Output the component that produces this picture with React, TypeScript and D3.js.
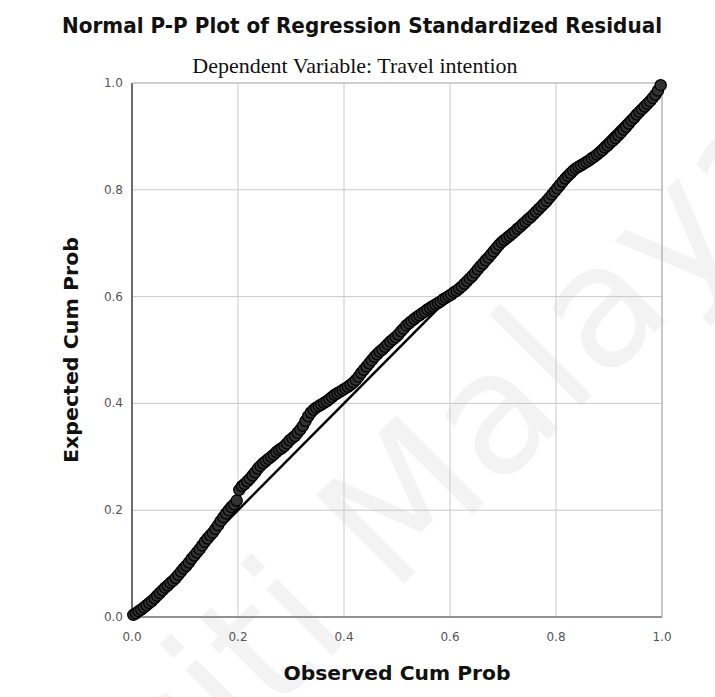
import React from "react";
import * as d3 from "d3";

const observed = [
  0.0025, 0.0075, 0.0125, 0.0175, 0.0225, 0.0275, 0.0325, 0.0375, 0.0425, 0.0475,
  0.0525, 0.0575, 0.0625, 0.0675, 0.0725, 0.0775, 0.0825, 0.0875, 0.0925, 0.0975,
  0.1025, 0.1075, 0.1125, 0.1175, 0.1225, 0.1275, 0.1325, 0.1375, 0.1425, 0.1475,
  0.1525, 0.1575, 0.1625, 0.1675, 0.1725, 0.1775, 0.1825, 0.1875, 0.1925, 0.1975,
  0.2025, 0.2075, 0.2125, 0.2175, 0.2225, 0.2275, 0.2325, 0.2375, 0.2425, 0.2475,
  0.2525, 0.2575, 0.2625, 0.2675, 0.2725, 0.2775, 0.2825, 0.2875, 0.2925, 0.2975,
  0.3025, 0.3075, 0.3125, 0.3175, 0.3225, 0.3275, 0.3325, 0.3375, 0.3425, 0.3475,
  0.3525, 0.3575, 0.3625, 0.3675, 0.3725, 0.3775, 0.3825, 0.3875, 0.3925, 0.3975,
  0.4025, 0.4075, 0.4125, 0.4175, 0.4225, 0.4275, 0.4325, 0.4375, 0.4425, 0.4475,
  0.4525, 0.4575, 0.4625, 0.4675, 0.4725, 0.4775, 0.4825, 0.4875, 0.4925, 0.4975,
  0.5025, 0.5075, 0.5125, 0.5175, 0.5225, 0.5275, 0.5325, 0.5375, 0.5425, 0.5475,
  0.5525, 0.5575, 0.5625, 0.5675, 0.5725, 0.5775, 0.5825, 0.5875, 0.5925, 0.5975,
  0.6025, 0.6075, 0.6125, 0.6175, 0.6225, 0.6275, 0.6325, 0.6375, 0.6425, 0.6475,
  0.6525, 0.6575, 0.6625, 0.6675, 0.6725, 0.6775, 0.6825, 0.6875, 0.6925, 0.6975,
  0.7025, 0.7075, 0.7125, 0.7175, 0.7225, 0.7275, 0.7325, 0.7375, 0.7425, 0.7475,
  0.7525, 0.7575, 0.7625, 0.7675, 0.7725, 0.7775, 0.7825, 0.7875, 0.7925, 0.7975,
  0.8025, 0.8075, 0.8125, 0.8175, 0.8225, 0.8275, 0.8325, 0.8375, 0.8425, 0.8475,
  0.8525, 0.8575, 0.8625, 0.8675, 0.8725, 0.8775, 0.8825, 0.8875, 0.8925, 0.8975,
  0.9025, 0.9075, 0.9125, 0.9175, 0.9225, 0.9275, 0.9325, 0.9375, 0.9425, 0.9475,
  0.9525, 0.9575, 0.9625, 0.9675, 0.9725, 0.9775, 0.9825, 0.9875, 0.9925, 0.9975,
];

const expected = [
  0.004, 0.007, 0.011, 0.014, 0.018, 0.022, 0.026, 0.030, 0.035, 0.040,
  0.045, 0.050, 0.055, 0.059, 0.064, 0.068, 0.073, 0.079, 0.085, 0.091,
  0.096, 0.102, 0.109, 0.115, 0.121, 0.127, 0.134, 0.141, 0.147, 0.153,
  0.158, 0.165, 0.172, 0.180, 0.187, 0.194, 0.200, 0.206, 0.211, 0.218,
  0.238, 0.245, 0.249, 0.254, 0.259, 0.265, 0.271, 0.278, 0.283, 0.288,
  0.292, 0.296, 0.300, 0.304, 0.309, 0.313, 0.316, 0.320, 0.325, 0.331,
  0.335, 0.339, 0.345, 0.351, 0.358, 0.367, 0.376, 0.383, 0.388, 0.392,
  0.395, 0.398, 0.401, 0.404, 0.408, 0.412, 0.416, 0.419, 0.422, 0.425,
  0.428, 0.431, 0.435, 0.439, 0.444, 0.450, 0.457, 0.463, 0.469, 0.475,
  0.481, 0.487, 0.492, 0.497, 0.501, 0.506, 0.511, 0.516, 0.520, 0.524,
  0.529, 0.535, 0.540, 0.546, 0.550, 0.554, 0.558, 0.562, 0.565, 0.569,
  0.572, 0.576, 0.579, 0.582, 0.585, 0.588, 0.591, 0.595, 0.598, 0.601,
  0.604, 0.608, 0.611, 0.615, 0.619, 0.624, 0.629, 0.634, 0.639, 0.645,
  0.651, 0.657, 0.662, 0.668, 0.673, 0.679, 0.685, 0.691, 0.697, 0.702,
  0.706, 0.710, 0.714, 0.718, 0.722, 0.727, 0.731, 0.736, 0.740, 0.745,
  0.749, 0.754, 0.759, 0.764, 0.769, 0.774, 0.779, 0.785, 0.791, 0.797,
  0.803, 0.809, 0.815, 0.821, 0.826, 0.831, 0.836, 0.840, 0.843, 0.846,
  0.849, 0.852, 0.855, 0.859, 0.862, 0.866, 0.870, 0.874, 0.879, 0.883,
  0.888, 0.892, 0.897, 0.902, 0.907, 0.913, 0.918, 0.924, 0.930, 0.935,
  0.941, 0.946, 0.951, 0.956, 0.961, 0.966, 0.972, 0.978, 0.986, 0.996,
];

const tickValues = [0, 0.2, 0.4, 0.6, 0.8, 1.0];
const tickLabels = ["0.0", "0.2", "0.4", "0.6", "0.8", "1.0"];
const diagonal = [0, 1];

const title = "Normal P-P Plot of Regression Standardized Residual";
const subtitle = "Dependent Variable: Travel intention";
const xTitle = "Observed Cum Prob";
const yTitle = "Expected Cum Prob";
const watermarkA = "Universiti";
const watermarkB = "Malaya";

export default function App() {
  const W = 715, H = 697;
  const x = d3.scaleLinear().domain([0, 1]).range([132, 662]);
  const y = d3.scaleLinear().domain([0, 1]).range([617, 83]);
  const pts = observed.map((o, i) => [o, expected[i]] as [number, number]);
  const sans = "'DejaVu Sans', sans-serif";

  return (
    <svg width={W} height={H} style={{ position: "absolute", left: 0, top: 0, background: "#fff" }}>
      <rect x={0} y={0} width={W} height={H} fill="#fff" />
      {/* watermark */}
      <g transform="translate(392,595) rotate(-45)" fontFamily={sans} fontSize={170} fill="#f3f3f3">
        <text x={-54} y={0} textAnchor="end">{watermarkA}</text>
        <text x={0} y={0}>{watermarkB}</text>
      </g>
      {/* grid */}
      {tickValues.map((t, i) => (
        <g key={"g" + i}>
          <line x1={x(t)} x2={x(t)} y1={y(0)} y2={y(1)} stroke="#c9c9c9" strokeWidth={1} />
          <line x1={x(0)} x2={x(1)} y1={y(t)} y2={y(t)} stroke="#c9c9c9" strokeWidth={1} />
        </g>
      ))}
      {/* frame */}
      <line x1={x(0)} x2={x(0)} y1={y(0)} y2={y(1)} stroke="#444" strokeWidth={1.5} />
      <line x1={x(0)} x2={x(1)} y1={y(0)} y2={y(0)} stroke="#777" strokeWidth={1.6} />
      <line x1={x(1)} x2={x(1)} y1={y(0)} y2={y(1)} stroke="#aaa" strokeWidth={1} />
      <line x1={x(0)} x2={x(1)} y1={y(1)} y2={y(1)} stroke="#bbb" strokeWidth={1} />
      {/* diagonal */}
      <line
        x1={x(diagonal[0])} y1={y(diagonal[0])}
        x2={x(diagonal[1])} y2={y(diagonal[1])}
        stroke="#000" strokeWidth={2.5}
      />
      {/* points */}
      {pts.map((p, i) => (
        <circle key={"p" + i} cx={x(p[0])} cy={y(p[1])} r={5.6}
          fill="#333" stroke="#000" strokeWidth={1.3} />
      ))}
      {/* tick labels */}
      {tickValues.map((t, i) => (
        <text key={"xt" + i} x={x(t)} y={641} textAnchor="middle"
          fontFamily={sans} fontSize={12} fill="#555">{tickLabels[i]}</text>
      ))}
      {tickValues.map((t, i) => (
        <text key={"yt" + i} x={123} y={y(t) + 4} textAnchor="end"
          fontFamily={sans} fontSize={12} fill="#555">{tickLabels[i]}</text>
      ))}
      {/* titles */}
      <text x={362} y={33} textAnchor="middle" fontFamily={sans} fontWeight="bold"
        fontSize={21} textLength={600} lengthAdjust="spacingAndGlyphs" fill="#111">{title}</text>
      <text x={355} y={73} textAnchor="middle" fontFamily="'Liberation Serif', serif"
        fontSize={22} fill="#111">{subtitle}</text>
      <text x={397} y={680} textAnchor="middle" fontFamily={sans} fontWeight="bold"
        fontSize={19} textLength={227} lengthAdjust="spacingAndGlyphs" fill="#111">{xTitle}</text>
      <text transform="translate(78,350) rotate(-90)" textAnchor="middle" fontFamily={sans}
        fontWeight="bold" fontSize={19} textLength={226} lengthAdjust="spacingAndGlyphs" fill="#111">{yTitle}</text>
    </svg>
  );
}
